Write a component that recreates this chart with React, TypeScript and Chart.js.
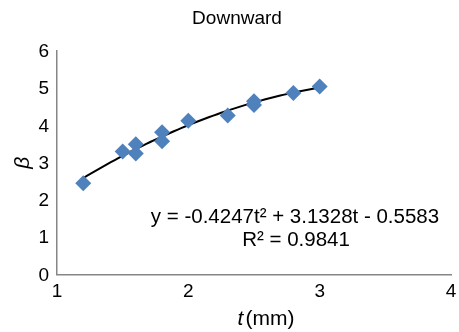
import React, { useEffect, useRef } from 'react';
import { Chart, registerables } from 'chart.js';

Chart.register(...registerables);

const chartTitle = 'Downward';
const tValues = [1.2, 1.5, 1.6, 1.6, 1.8, 1.8, 2.0, 2.3, 2.5, 2.5, 2.8, 3.0];
const betaValues = [2.45, 3.3, 3.5, 3.25, 3.82, 3.58, 4.13, 4.27, 4.55, 4.65, 4.87, 5.05];
const trendCoefficients = [-0.4247, 3.1328, -0.5583];
const trendRange = [1.2, 3.0];
const equationLines = ['y = -0.4247t\u00B2 + 3.1328t - 0.5583', 'R\u00B2 = 0.9841'];
const xTickValues = [1, 2, 3, 4];
const yTickValues = [0, 1, 2, 3, 4, 5, 6];

const FONT = '"Liberation Sans", Arial, sans-serif';

function drawText(
  ctx: CanvasRenderingContext2D,
  text: string,
  x: number,
  y: number,
  align: 'left' | 'center' | 'right',
  font: string,
) {
  ctx.save();
  ctx.font = font;
  ctx.textBaseline = 'middle';
  ctx.textAlign = align;
  ctx.fillText(text, x, y);
  ctx.restore();
}

export default function App() {
  const canvasRef = useRef<HTMLCanvasElement | null>(null);

  useEffect(() => {
    document.body.style.margin = '0';
    const canvas = canvasRef.current;
    if (!canvas) return;

    const [a, b, c] = trendCoefficients;
    const trendPoints: { x: number; y: number }[] = [];
    const steps = 60;
    for (let i = 0; i <= steps; i++) {
      const t = trendRange[0] + ((trendRange[1] - trendRange[0]) * i) / steps;
      trendPoints.push({ x: t, y: a * t * t + b * t + c });
    }

    const textPlugin = {
      id: 'texts',
      afterDraw(chart: any) {
        const ctx = chart.ctx as CanvasRenderingContext2D;
        const area = chart.chartArea;
        const xs = chart.scales.x;
        const ys = chart.scales.y;
        ctx.save();
        ctx.fillStyle = '#000';
        const tickFont = `19px ${FONT}`;
        xTickValues.forEach((v) => {
          drawText(ctx, String(v), xs.getPixelForValue(v), 292, 'center', tickFont);
        });
        yTickValues.forEach((v) => {
          drawText(ctx, String(v), 49, ys.getPixelForValue(v) + 1, 'right', tickFont);
        });
        // title
        drawText(ctx, chartTitle, 237, 19, 'center', `19px ${FONT}`);
        // equation
        drawText(ctx, equationLines[0], 295, 217, 'center', `20.5px ${FONT}`);
        drawText(ctx, equationLines[1], 296, 240, 'center', `20.5px ${FONT}`);
        // x title: italic t + (mm)
        const fi = `italic 21px ${FONT}`;
        const fn = `21px ${FONT}`;
        ctx.font = fi;
        const tW = ctx.measureText('t').width;
        ctx.font = fn;
        const restW = ctx.measureText('(mm)').width;
        const cx = 266;
        const startX = cx - (tW + restW + 2) / 2;
        drawText(ctx, 't', startX, 319, 'left', fi);
        drawText(ctx, '(mm)', startX + tW + 2, 319, 'left', fn);
        // y title: rotated italic beta
        ctx.save();
        ctx.translate(23, (area.top + area.bottom) / 2);
        ctx.rotate(-Math.PI / 2);
        ctx.font = `italic 21px ${FONT}`;
        ctx.textAlign = 'center';
        ctx.textBaseline = 'middle';
        ctx.fillText('\u03B2', 0, 0);
        ctx.restore();
        ctx.restore();
      },
    };

    const chart = new Chart(canvas, {
      type: 'scatter',
      data: {
        datasets: [
          {
            label: 'trend',
            data: trendPoints,
            showLine: true,
            borderColor: '#000',
            borderWidth: 2,
            pointRadius: 0,
            tension: 0,
            order: 2,
          },
          {
            label: 'beta',
            data: tValues.map((t, i) => ({ x: t, y: betaValues[i] })),
            pointStyle: 'rectRot',
            pointRadius: 8,
            backgroundColor: '#4F81BD',
            borderColor: '#4F81BD',
            borderWidth: 0,
            order: 1,
          },
        ],
      },
      options: {
        animation: false,
        responsive: true,
        maintainAspectRatio: false,
        layout: { padding: { left: 0, right: 5, top: 51, bottom: 0 } },
        plugins: {
          legend: { display: false },
          tooltip: { enabled: false },
          title: { display: false },
        },
        scales: {
          x: {
            type: 'linear',
            min: xTickValues[0],
            max: xTickValues[xTickValues.length - 1],
            grid: { display: false, drawTicks: false },
            border: { display: true, color: '#868686', width: 1.5 },
            ticks: { display: false, stepSize: 1 },
            afterFit(scale: any) {
              scale.height = 57.5;
              scale.paddingLeft = 0;
              scale.paddingRight = 0;
            },
          },
          y: {
            type: 'linear',
            min: yTickValues[0],
            max: yTickValues[yTickValues.length - 1],
            grid: { display: false, drawTicks: false },
            border: { display: true, color: '#868686', width: 1.5 },
            ticks: { display: false, stepSize: 1 },
            afterFit(scale: any) {
              scale.width = 57;
              scale.paddingTop = 0;
              scale.paddingBottom = 0;
            },
          },
        },
      },
      plugins: [textPlugin],
    });

    return () => chart.destroy();
  }, []);

  return (
    <div style={{ width: 459, height: 332, position: 'relative' }}>
      <canvas ref={canvasRef} />
    </div>
  );
}
